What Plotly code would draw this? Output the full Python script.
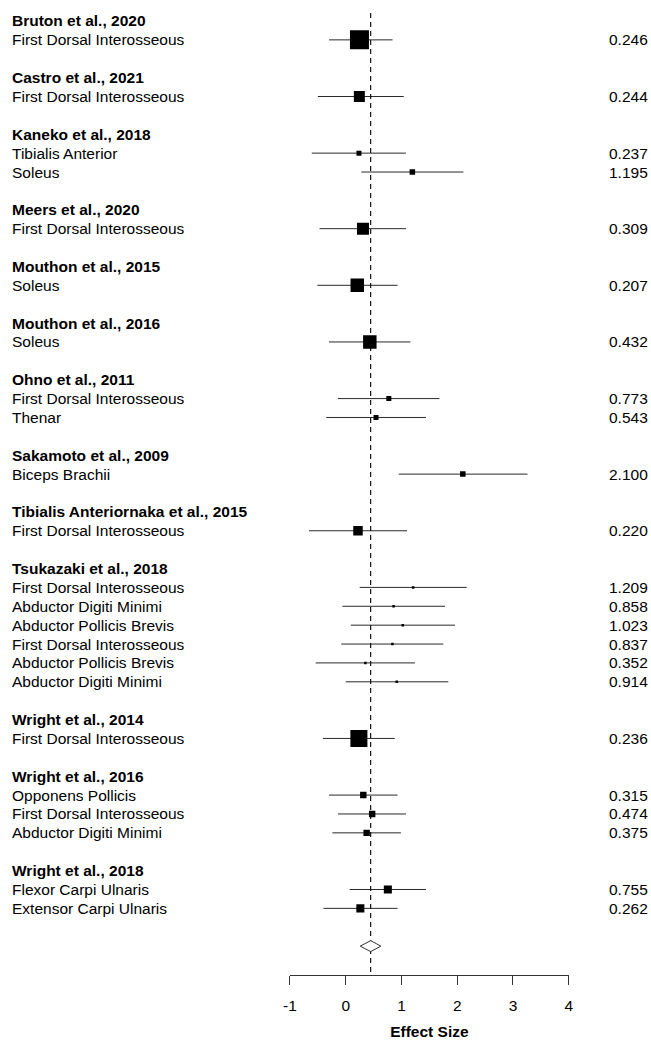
import plotly.graph_objects as go

# Studies, muscles and effect sizes (Hedges' g) with 95% confidence limits
studies = [
    "Bruton et al., 2020",
    "Castro et al., 2021",
    "Kaneko et al., 2018",
    "Meers et al., 2020",
    "Mouthon et al., 2015",
    "Mouthon et al., 2016",
    "Ohno et al., 2011",
    "Sakamoto et al., 2009",
    "Tibialis Anteriornaka et al., 2015",
    "Tsukazaki et al., 2018",
    "Wright et al., 2014",
    "Wright et al., 2016",
    "Wright et al., 2018",
]
study_counts = [1, 1, 2, 1, 1, 1, 2, 1, 1, 6, 1, 3, 2]

muscles = [
    "First Dorsal Interosseous",
    "First Dorsal Interosseous",
    "Tibialis Anterior", "Soleus",
    "First Dorsal Interosseous",
    "Soleus",
    "Soleus",
    "First Dorsal Interosseous", "Thenar",
    "Biceps Brachii",
    "First Dorsal Interosseous",
    "First Dorsal Interosseous", "Abductor Digiti Minimi", "Abductor Pollicis Brevis",
    "First Dorsal Interosseous", "Abductor Pollicis Brevis", "Abductor Digiti Minimi",
    "First Dorsal Interosseous",
    "Opponens Pollicis", "First Dorsal Interosseous", "Abductor Digiti Minimi",
    "Flexor Carpi Ulnaris", "Extensor Carpi Ulnaris",
]
effects = [0.246, 0.244, 0.237, 1.195, 0.309, 0.207, 0.432, 0.773, 0.543, 2.100,
           0.220, 1.209, 0.858, 1.023, 0.837, 0.352, 0.914, 0.236, 0.315, 0.474,
           0.375, 0.755, 0.262]
ci_lower = [-0.30, -0.50, -0.61, 0.28, -0.47, -0.51, -0.30, -0.14, -0.35, 0.95,
            -0.66, 0.25, -0.06, 0.09, -0.08, -0.54, 0.00, -0.41, -0.30, -0.14,
            -0.24, 0.07, -0.40]
ci_upper = [0.84, 1.04, 1.08, 2.11, 1.08, 0.93, 1.16, 1.68, 1.44, 3.26,
            1.10, 2.17, 1.78, 1.96, 1.75, 1.24, 1.84, 0.88, 0.93, 1.08,
            0.99, 1.44, 0.93]
weights = [20.1, 6.7, 1.4, 1.7, 8.0, 10.1, 10.1, 1.4, 1.4, 1.7,
           5.0, 0.35, 0.35, 0.35, 0.35, 0.35, 0.35, 16.1, 2.3, 2.3,
           2.3, 3.6, 3.6]

pooled_effect = 0.447
pooled_lower = 0.26
pooled_upper = 0.63

x_ticks = [-1, 0, 1, 2, 3, 4]

# ---- row layout: header, its muscles, then a blank row ----
header_rows = []
item_rows = []
row = 0
for n in study_counts:
    header_rows.append(row)
    item_rows.extend(range(row + 1, row + 1 + n))
    row += n + 2
pooled_row = row

W, H = 651, 1040
FONT = "Liberation Sans, Arial, sans-serif"
FS = 15.5
ROW0_PX, ROW_PX = 21.0, 18.9
AXIS_PX = 976
y_top = -ROW0_PX / ROW_PX
y_bottom = (AXIS_PX - ROW0_PX) / ROW_PX
LEFT_X = 3 / W
RIGHT_X = 655 / W

fig = go.Figure()

# confidence interval whiskers
cx, cy = [], []
for lo, hi, r in zip(ci_lower, ci_upper, item_rows):
    cx += [lo, hi, None]
    cy += [r, r, None]
fig.add_trace(go.Scatter(x=cx, y=cy, mode="lines",
                         line=dict(color="#2a2a2a", width=1),
                         hoverinfo="skip", showlegend=False))

# reference line at the pooled estimate
fig.add_trace(go.Scatter(x=[pooled_effect, pooled_effect], y=[-0.42, y_bottom],
                         mode="lines",
                         line=dict(color="#111111", width=1.2, dash="5px,4px"),
                         hoverinfo="skip", showlegend=False))

# study estimates, boxes scaled by weight
sizes = [4.24 * w ** 0.5 for w in weights]
fig.add_trace(go.Scatter(x=effects, y=item_rows, mode="markers",
                         marker=dict(symbol="square", size=sizes, color="#000000",
                                     opacity=1, line=dict(width=0)),
                         showlegend=False))

# pooled estimate diamond
h = 0.29
fig.add_trace(go.Scatter(
    x=[pooled_lower, pooled_effect, pooled_upper, pooled_effect, pooled_lower],
    y=[pooled_row, pooled_row - h, pooled_row, pooled_row + h, pooled_row],
    mode="lines", fill="toself", fillcolor="white",
    line=dict(color="#333333", width=1), showlegend=False))

text_font = dict(size=FS, color="black", family=FONT)
annotations = []
for name, r in zip(studies, header_rows):
    annotations.append(dict(text="<b>%s</b>" % name, x=LEFT_X, xref="paper",
                            y=r, yref="y", xanchor="left", yanchor="middle",
                            showarrow=False, font=text_font))
for name, val, r in zip(muscles, effects, item_rows):
    annotations.append(dict(text=name, x=LEFT_X, xref="paper",
                            y=r, yref="y", xanchor="left", yanchor="middle",
                            showarrow=False, font=text_font))
    annotations.append(dict(text="%.3f" % val, x=RIGHT_X, xref="paper",
                            y=r, yref="y", xanchor="right", yanchor="middle",
                            showarrow=False, font=text_font))

fig.update_layout(
    width=W, height=H,
    margin=dict(l=0, r=0, t=0, b=H - AXIS_PX, pad=0),
    paper_bgcolor="white", plot_bgcolor="white",
    font=dict(family=FONT, size=FS, color="black"),
    annotations=annotations,
    xaxis=dict(domain=[288.3 / W, 572.3 / W], range=[-1, 4],
               showgrid=False, zeroline=False,
               showline=True, linecolor="#333333", linewidth=1,
               ticks="outside", ticklen=9, tickwidth=1, tickcolor="#333333",
               ticklabelstandoff=7,
               tickvals=x_ticks, ticktext=[str(t) for t in x_ticks],
               tickfont=dict(size=FS, color="black", family=FONT),
               title=dict(text="<b>Effect Size</b>", standoff=16,
                          font=dict(size=FS, color="black", family=FONT))),
    yaxis=dict(range=[y_bottom, y_top], visible=False, showgrid=False,
               zeroline=False),
    showlegend=False,
)

fig.write_html("out.html")
